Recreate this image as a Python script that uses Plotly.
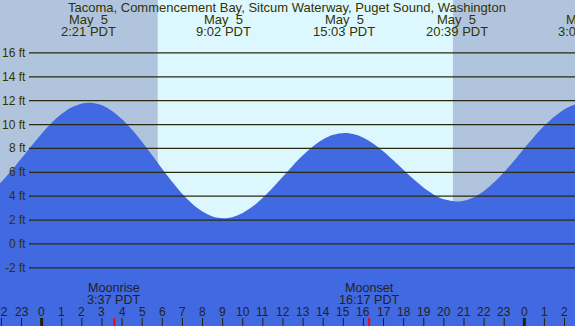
import plotly.graph_objects as go

# ---- data (tide height in ft vs hours after midnight May 5) ----
times = [-3, -2.5, -2, -1.5, -1, -0.5, 0, 0.5, 1, 1.5, 2, 2.35, 2.5, 3, 3.5, 4, 4.5, 5, 5.5,
         6, 6.5, 7, 7.5, 8, 8.5, 9.03, 9.5, 10, 10.5, 11, 11.5, 12, 12.5, 13, 13.5, 14,
         14.5, 15.05, 15.5, 16, 16.5, 17, 17.5, 18, 18.5, 19, 19.5, 20, 20.65, 21, 21.5,
         22, 22.5, 23, 23.5, 24, 24.5, 25, 25.5, 26, 26.5, 27.03]
heights = [3.87, 4.45, 5.22, 6.14, 7.17, 8.22, 9.23, 10.15, 10.90, 11.45, 11.77, 11.83, 11.82,
           11.61, 11.14, 10.45, 9.56, 8.54, 7.42, 6.28, 5.19, 4.19, 3.35, 2.71, 2.30, 2.15,
           2.26, 2.60, 3.15, 3.88, 4.73, 5.65, 6.58, 7.44, 8.19, 8.77, 9.15, 9.30, 9.21,
           8.90, 8.40, 7.75, 6.99, 6.19, 5.41, 4.70, 4.13, 3.75, 3.56, 3.62, 3.92, 4.44,
           5.16, 6.03, 6.99, 8.01, 9.00, 9.91, 10.68, 11.28, 11.66, 11.80]

ext_times = [2.35, 9.03, 15.05, 20.65, 27.03]
ext_dates = ["May  5", "May  5", "May  5", "May  5", "May  6"]
ext_labels = ["2:21 PDT", "9:02 PDT", "15:03 PDT", "20:39 PDT", "3:02 PDT"]

sun_times = [5.77, 20.45]          # sunrise, sunset

moon_times = [3.617, 16.283]
moon_names = ["Moonrise", "Moonset"]
moon_labels = ["3:37 PDT", "16:17 PDT"]

y_ticks = [-2, 0, 2, 4, 6, 8, 10, 12, 14, 16]
hours = list(range(-2, 27))

title = "Tacoma, Commencement Bay, Sitcum Waterway, Puget Sound, Washington"

# ---- layout constants ----
W, H = 575, 326
X0, X1 = -2.07, 26.52
Y0, Y1 = -6.87, 20.43
DAY = "#DDF7FF"
NIGHT = "#B0C4DE"
FILL = "#4169E1"
TXT = "#333300"
FONT = "Liberation Sans, Arial, sans-serif"


def px(t):
    return (t - X0) / (X1 - X0)


fig = go.Figure()
fig.add_trace(go.Scatter(x=times, y=[Y0 - 5] * len(times), mode="lines",
                         line=dict(width=0), hoverinfo="skip", showlegend=False))
fig.add_trace(go.Scatter(x=times, y=heights, mode="lines",
                         line=dict(width=0, shape="spline", smoothing=0.8, color=FILL),
                         fill="tonexty", fillcolor=FILL, hoverinfo="skip", showlegend=False))

shapes = []
# night shading
shapes.append(dict(type="rect", xref="x", yref="paper", x0=X0 - 5, x1=sun_times[0],
                   y0=0, y1=1, fillcolor=NIGHT, line=dict(width=0), layer="below"))
shapes.append(dict(type="rect", xref="x", yref="paper", x0=sun_times[1], x1=X1 + 5,
                   y0=0, y1=1, fillcolor=NIGHT, line=dict(width=0), layer="below"))
# grid lines
for v in y_ticks:
    shapes.append(dict(type="line", xref="paper", yref="y", x0=29 / W, x1=1, y0=v, y1=v,
                       line=dict(color="#2a2a10", width=1.2), layer="above"))
# hour ticks
for h in hours:
    mid = (h % 24 == 0)
    shapes.append(dict(type="line", xref="x", yref="paper", x0=h, x1=h, y0=0, y1=8 / H,
                       line=dict(color="#222200", width=3 if mid else 1), layer="above"))
for t in moon_times:
    shapes.append(dict(type="line", xref="x", yref="paper", x0=t, x1=t, y0=0, y1=8 / H,
                       line=dict(color="red", width=2), layer="above"))

ann = []
ann.append(dict(text=title, xref="paper", yref="paper", x=287 / W, y=1 - 7.5 / H,
                xanchor="center", yanchor="middle", showarrow=False,
                font=dict(family=FONT, size=13, color=TXT)))
for t, d, l in zip(ext_times, ext_dates, ext_labels):
    ann.append(dict(text=d, xref="paper", yref="paper", x=px(t), y=1 - 20 / H,
                    xanchor="center", yanchor="middle", showarrow=False,
                    font=dict(family=FONT, size=13, color=TXT)))
    ann.append(dict(text=l, xref="paper", yref="paper", x=px(t), y=1 - 31.5 / H,
                    xanchor="center", yanchor="middle", showarrow=False,
                    font=dict(family=FONT, size=13, color=TXT)))
for v in y_ticks:
    ann.append(dict(text=f"{v} ft", xref="paper", yref="y", x=27.5 / W, y=v,
                    xanchor="right", yanchor="middle", showarrow=False,
                    font=dict(family=FONT, size=12, color=TXT)))
for h in hours:
    ann.append(dict(text=str(h % 24), xref="paper", yref="paper", x=px(h), y=1 - 311.5 / H,
                    xanchor="center", yanchor="middle", showarrow=False,
                    font=dict(family=FONT, size=12, color="#222222")))
for t, n, l in zip(moon_times, moon_names, moon_labels):
    ann.append(dict(text=n, xref="paper", yref="paper", x=px(t), y=1 - 287.5 / H,
                    xanchor="center", yanchor="middle", showarrow=False,
                    font=dict(family=FONT, size=12.6, color="#222222")))
    ann.append(dict(text=l, xref="paper", yref="paper", x=px(t), y=1 - 299.5 / H,
                    xanchor="center", yanchor="middle", showarrow=False,
                    font=dict(family=FONT, size=12.6, color="#222222")))

fig.update_layout(
    width=W, height=H, margin=dict(l=0, r=0, t=0, b=0, pad=0),
    paper_bgcolor=DAY, plot_bgcolor=DAY,
    xaxis=dict(range=[X0, X1], visible=False, fixedrange=True),
    yaxis=dict(range=[Y0, Y1], visible=False, fixedrange=True),
    shapes=shapes, annotations=ann, showlegend=False,
)

fig.write_html("out.html", config={"displayModeBar": False},
               post_script="document.body.style.margin='0';document.body.style.overflow='hidden';")
